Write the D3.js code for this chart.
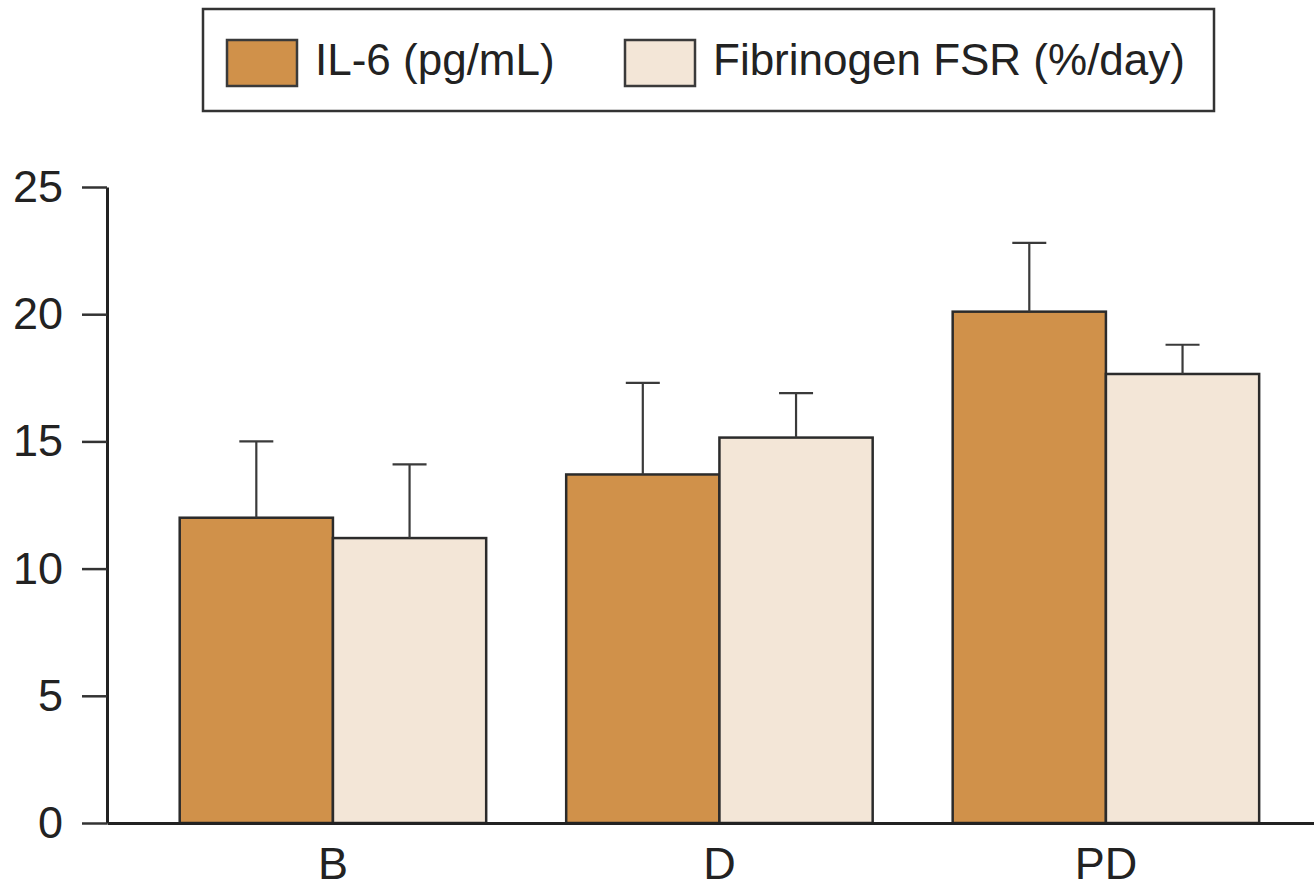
<!DOCTYPE html>
<html>
<head>
<meta charset="utf-8">
<script src="https://cdn.jsdelivr.net/npm/d3@7"></script>
<style>
  html, body { margin: 0; padding: 0; background: #fff; }
  svg { display: block; font-family: "Liberation Sans", Arial, sans-serif; }
</style>
</head>
<body>
<div id="chart"></div>
<script>
// Data
const groups = ['B', 'D', 'PD'];
const seriesNames = ['IL-6 (pg/mL)', 'Fibrinogen FSR (%/day)'];
const il6Values = [12.0, 13.7, 20.1];
const il6Upper = [15.0, 17.3, 22.8];
const fsrValues = [11.2, 15.15, 17.65];
const fsrUpper = [14.1, 16.9, 18.8];
const yTicks = [0, 5, 10, 15, 20, 25];

const seriesColors = ['#d0914a', '#f3e6d7'];

const width = 1314;
const height = 890;
const margins = { top: 187, right: 0, bottom: 67, left: 107 };

const svg = d3.select('#chart')
    .append('svg')
    .attr('width', width)
    .attr('height', height);

// Scales
const x0 = d3.scaleBand()
    .domain(groups)
    .range([margins.left, width - margins.right])
    .paddingInner(0.207)
    .paddingOuter(0.165)
    .align(0.57);

const x1 = d3.scaleBand()
    .domain(seriesNames)
    .range([0, x0.bandwidth()]);

const y = d3.scaleLinear()
    .domain([0, 25])
    .range([height - margins.bottom, margins.top]);

// Rows for each bar
const rows = [];
groups.forEach((g, i) => {
    rows.push({ group: g, series: seriesNames[0], value: il6Values[i], upper: il6Upper[i] });
    rows.push({ group: g, series: seriesNames[1], value: fsrValues[i], upper: fsrUpper[i] });
});

const color = d3.scaleOrdinal().domain(seriesNames).range(seriesColors);

// Bars
svg.append('g')
    .selectAll('rect')
    .data(rows)
    .join('rect')
    .attr('x', d => x0(d.group) + x1(d.series))
    .attr('y', d => y(d.value))
    .attr('width', x1.bandwidth())
    .attr('height', d => y(0) - y(d.value))
    .attr('fill', d => color(d.series))
    .attr('stroke', '#2b2b2b')
    .attr('stroke-width', 2.5);

// Error bars (upper only)
const capHalf = 17;
const errG = svg.append('g')
    .attr('stroke', '#3a3a3a')
    .attr('stroke-width', 2.2);

errG.selectAll('line.stem')
    .data(rows)
    .join('line')
    .attr('class', 'stem')
    .attr('x1', d => x0(d.group) + x1(d.series) + x1.bandwidth() / 2)
    .attr('x2', d => x0(d.group) + x1(d.series) + x1.bandwidth() / 2)
    .attr('y1', d => y(d.value))
    .attr('y2', d => y(d.upper));

errG.selectAll('line.cap')
    .data(rows)
    .join('line')
    .attr('class', 'cap')
    .attr('x1', d => x0(d.group) + x1(d.series) + x1.bandwidth() / 2 - capHalf)
    .attr('x2', d => x0(d.group) + x1(d.series) + x1.bandwidth() / 2 + capHalf)
    .attr('y1', d => y(d.upper))
    .attr('y2', d => y(d.upper));

// Y axis
const yAxis = svg.append('g')
    .attr('transform', `translate(${margins.left},0)`)
    .call(d3.axisLeft(y)
        .tickValues(yTicks)
        .tickSize(25)
        .tickSizeOuter(0)
        .tickPadding(19));

yAxis.select('.domain')
    .attr('stroke', '#222')
    .attr('stroke-width', 3);
yAxis.selectAll('.tick line')
    .attr('stroke', '#333')
    .attr('stroke-width', 2.5);
yAxis.selectAll('.tick text')
    .attr('fill', '#222')
    .style('font-size', '45px');

// X axis
const xAxis = svg.append('g')
    .attr('transform', `translate(0,${y(0)})`)
    .call(d3.axisBottom(x0)
        .tickSize(0)
        .tickSizeOuter(0)
        .tickPadding(24));

xAxis.select('.domain')
    .attr('stroke', '#222')
    .attr('stroke-width', 3);
xAxis.selectAll('.tick text')
    .attr('fill', '#222')
    .style('font-size', '45px');

// Legend
const legend = svg.append('g');

legend.append('rect')
    .attr('x', 203)
    .attr('y', 9)
    .attr('width', 1011)
    .attr('height', 102)
    .attr('fill', '#fff')
    .attr('stroke', '#333')
    .attr('stroke-width', 2.5);

const legendX = [227, 625];
seriesNames.forEach((name, i) => {
    legend.append('rect')
        .attr('x', legendX[i])
        .attr('y', 40)
        .attr('width', 70)
        .attr('height', 46)
        .attr('fill', seriesColors[i])
        .attr('stroke', '#3a3a3a')
        .attr('stroke-width', 2.5);

    legend.append('text')
        .attr('x', legendX[i] + 88)
        .attr('y', 75)
        .attr('fill', '#222')
        .style('font-size', '44px')
        .text(name);
});
</script>
</body>
</html>
